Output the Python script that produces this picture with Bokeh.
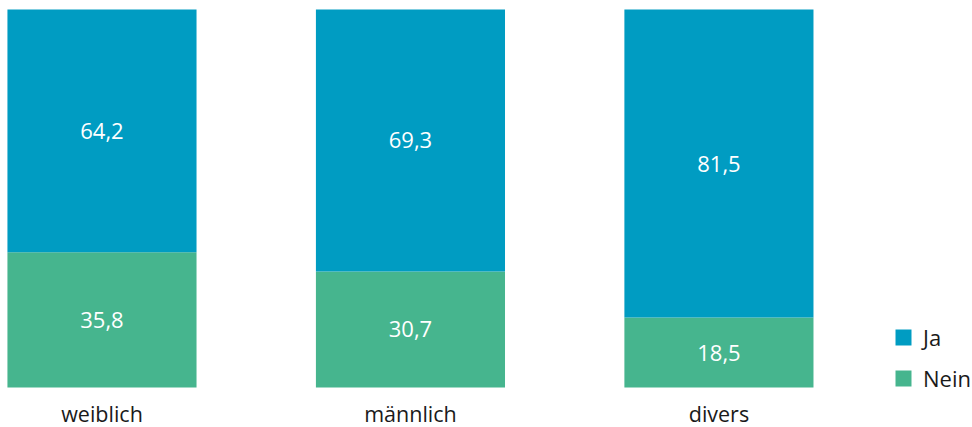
from bokeh.plotting import figure
from bokeh.models import ColumnDataSource, Legend, LegendItem, Range1d
from bokeh.core.properties import value
from bokeh.embed import file_html
from bokeh.resources import INLINE

categories = ["weiblich", "männlich", "divers"]
nein = [35.8, 30.7, 18.5]
ja = [64.2, 69.3, 81.5]

BLUE = "#009cc2"
GREEN = "#46b58e"
FONT = "Open Sans"

xs = list(range(len(categories)))
src = ColumnDataSource(dict(x=xs, Nein=nein, Ja=ja))

p = figure(width=972, height=427, output_backend="svg", toolbar_location=None,
           x_range=Range1d(-0.329, 2.822), y_range=Range1d(-10.58, 102.38),
           min_border=0, min_border_left=0, min_border_right=0,
           min_border_top=0, min_border_bottom=0)
p.axis.visible = False
p.grid.visible = False
p.outline_line_color = None
p.background_fill_color = "white"
p.border_fill_color = "white"

rs = p.vbar_stack(["Nein", "Ja"], x="x", width=0.613, color=[GREEN, BLUE],
                  line_color=None, source=src)

# value labels
lx, ly, lt = [], [], []
for i in xs:
    lx += [i, i]
    ly += [nein[i] / 2, nein[i] + ja[i] / 2]
    lt += [f"{nein[i]:.1f}".replace(".", ","), f"{ja[i]:.1f}".replace(".", ",")]
p.text(x=lx, y=ly, text=lt, text_color="white", text_font=value(FONT),
       text_font_size="22px", text_align="center", text_baseline="middle")

# category labels
p.text(x=xs, y=[-6.9] * 3, text=categories, text_color="#1a1a1a",
       text_font=value(FONT), text_font_size="21.5px", text_align="center",
       text_baseline="middle")

legend = Legend(items=[LegendItem(label="Ja", renderers=[rs[1]]),
                       LegendItem(label="Nein", renderers=[rs[0]])],
                location=(893, 34), orientation="vertical",
                glyph_width=20, glyph_height=20, label_height=20,
                spacing=11, padding=0, margin=0, label_standoff=10,
                label_text_font=FONT, label_text_font_size="22px",
                label_text_color="#1a1a1a", border_line_color=None,
                background_fill_alpha=0)
p.add_layout(legend, "center")

open("out.html", "w").write(file_html(p, INLINE))
